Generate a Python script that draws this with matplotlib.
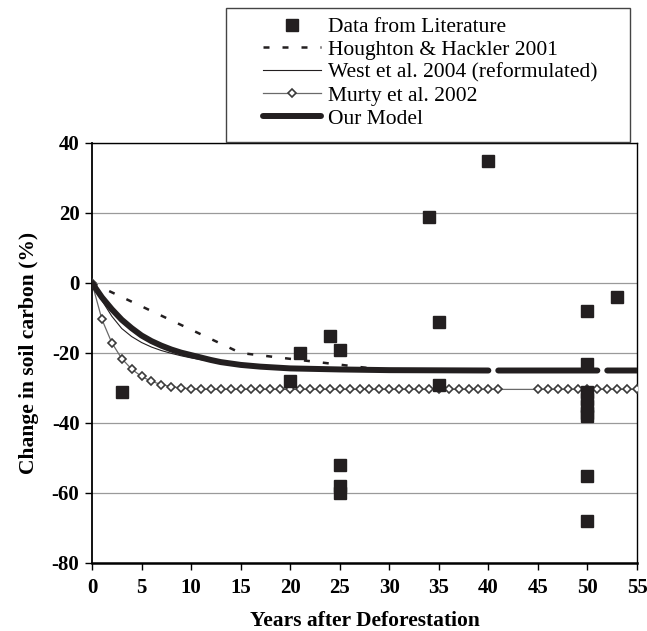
import numpy as np
import matplotlib
matplotlib.use("Agg")
import matplotlib.pyplot as plt
from matplotlib.patches import Rectangle

# ---- data ----
lit_years = [3, 20, 21, 24, 25, 25, 25, 25, 34, 35, 35, 40,
             50, 50, 50, 50, 50, 50, 50, 50, 50, 53]
lit_change = [-31, -28, -20, -15, -19, -52, -58, -60, 19, -11, -29, 35,
              -8, -23, -31, -33, -35, -37, -38, -55, -68, -4]

houghton_years = [0, 15, 30]
houghton_change = [0, -20, -25]

west_years = [0, 1, 2, 3, 4, 5, 6, 7, 8, 9, 10, 12, 15, 20, 25, 30, 40]
west_change = [0, -5.0, -9.5, -13.0, -15.3, -17.0, -18.3, -19.3, -20.1,
               -20.8, -21.4, -22.4, -23.5, -24.4, -24.8, -25.0, -25.0]

murty_years = list(range(0, 56))
murty_change = [0, -10.4, -17.1, -21.6, -24.6, -26.7, -28.1, -29.0, -29.6,
                -30.0, -30.2] + [-30.4] * 45
murty_marker_years = list(range(0, 42)) + list(range(45, 56))

model_years = [0, 1, 2, 3, 4, 5, 6, 7, 8, 9, 10, 11, 12, 13, 14, 15, 17,
               20, 25, 30, 40, np.nan, 41, 45, 51, np.nan, 52, 55]
model_change = [0, -4.1, -7.5, -10.5, -12.9, -15.0, -16.6, -17.9, -19.0,
                -19.9, -20.6, -21.3, -22.0, -22.6, -23.0, -23.4, -23.9,
                -24.4, -24.7, -24.9, -25.0, np.nan, -25.0, -25.0, -25.0,
                np.nan, -25.0, -25.0]

x_ticks = list(range(0, 56, 5))
y_ticks = list(range(-80, 41, 20))

# ---- figure ----
plt.rcParams['font.family'] = ['Liberation Serif', 'DejaVu Serif']
plt.rcParams['axes.unicode_minus'] = False
W, H = 647, 631
fig = plt.figure(figsize=(W / 100, H / 100), dpi=100)
ax = fig.add_axes([92 / W, 1 - 563 / H, 545 / W, 420 / H])

ax.set_xlim(0, 55)
ax.set_ylim(-80, 40)
ax.set_xticks(x_ticks)
ax.set_yticks(y_ticks)
ax.yaxis.grid(True, color='#9a9a9a', linewidth=0.9)
ax.set_axisbelow(True)

dark = '#231f20'
h_data, = ax.plot(lit_years, lit_change, linestyle='none', marker='s',
                  markersize=8.6, color=dark, zorder=6,
                  label='Data from Literature')
h_hough, = ax.plot(houghton_years, houghton_change, color=dark,
                   linewidth=1.8, linestyle=(0, (2.4, 5.2)), zorder=3,
                   label='Houghton & Hackler 2001')
h_west, = ax.plot(west_years, west_change, color=dark, linewidth=0.8,
                  zorder=3, label='West et al. 2004 (reformulated)')
mk_idx = [murty_years.index(y) for y in murty_marker_years]
h_murty, = ax.plot(murty_years, murty_change, color='#6a6a6a', linewidth=0.9,
                   marker='D', markersize=4.3, markerfacecolor='white',
                   markeredgecolor='#3a3a3a', markeredgewidth=1.2,
                   markevery=mk_idx, zorder=4, label='Murty et al. 2002')
h_model, = ax.plot(model_years, model_change, color=dark, linewidth=4.3,
                   solid_capstyle='round', zorder=5, label='Our Model')

for s in ax.spines.values():
    s.set_color('black')
    s.set_linewidth(1.0)
ax.spines['bottom'].set_linewidth(1.8)
ax.spines['left'].set_linewidth(1.3)

ax.tick_params(axis='both', direction='out', length=5, width=1.0,
               labelsize=15, colors='black')
ax.tick_params(axis='x', pad=6)
ax.tick_params(axis='y', pad=4)
for lbl in ax.get_xticklabels() + ax.get_yticklabels():
    lbl.set_fontweight('bold')

ax.set_xlabel('Years after Deforestation', fontsize=15.5, fontweight='bold',
              labelpad=9)
ax.set_ylabel('Change in soil carbon (%)', fontsize=15.5, fontweight='bold',
              labelpad=9)

# legend frame (box is wider than its content in the reference)
fig.patches.append(Rectangle((226 / W, 1 - 142 / H), 404 / W, 134 / H,
                             transform=fig.transFigure, fill=False,
                             edgecolor='#444444', linewidth=1.0, zorder=10))
fig.patches[-1].set_figure(fig)

leg = fig.legend(handles=[h_data, h_hough, h_west, h_murty, h_model],
                 loc='upper left', bbox_to_anchor=(263 / W, 1 - 17 / H),
                 bbox_transform=fig.transFigure,
                 fontsize=15.5, frameon=False, handlelength=2.7,
                 handletextpad=0.33, labelspacing=0.13, borderpad=0,
                 borderaxespad=0, numpoints=1)

fig.savefig('out.png', dpi=100)
